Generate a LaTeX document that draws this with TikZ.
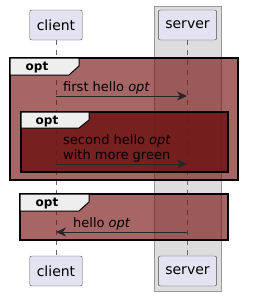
\documentclass[tikz,border=0pt]{standalone}
\usepackage{fontspec}
\setmainfont{DejaVu Sans}
\usetikzlibrary{arrows.meta,positioning}
\definecolor{partfill}{HTML}{E2E2F0}
\definecolor{boxgray}{HTML}{DDDDDD}
\definecolor{tabfill}{HTML}{EEEEEE}
\definecolor{optred}{RGB}{120,20,20}
\definecolor{optdark}{RGB}{110,20,20}

\begin{document}
\begin{tikzpicture}[x=1pt,y=-1pt,
  every node/.style={font=\fontsize{13}{15}\selectfont},
  part/.style={draw=black!70,rounded corners=2pt,fill=partfill,minimum height=30pt,inner xsep=7pt,font=\fontsize{14}{16}\selectfont},
  life/.style={draw=black!60,line width=0.5pt,dash pattern=on 5pt off 5pt},
  frame/.style={draw=black,line width=1.5pt,fill opacity=0.65,fill=optred},
  tabbox/.style={draw=black,line width=1pt,fill=tabfill},
  optlbl/.style={anchor=base,font=\fontsize{12}{14}\selectfont\bfseries},
  msg/.style={draw=black!85,line width=0.8pt,-{Stealth[length=10pt,width=9pt,inset=3pt]}},
  lbl/.style={anchor=base west,inner sep=0pt,align=left}]
\useasboundingbox (0,0) rectangle (252,297);
\draw[fill=boxgray,draw=black!40,line width=0.8pt] (154,6) rectangle (221,291);
\node[part] (cl) at (56,25) {client};
\node[part] (sv) at (187.5,25) {server};
\node[part] (clb) at (56,271) {client};
\node[part] (svb) at (187.5,271) {server};
\draw[life] (cl.south) -- (clb.north);
\draw[life] (sv.south) -- (svb.north);
\draw[frame] (10,58) rectangle (238,180);
\draw[tabbox] (10,58) -- (79,58) -- (79,66) -- (69,75) -- (10,75) -- cycle;
\node[optlbl] (t1) at (37,70) {opt};
\node[lbl] (m1) at (63,91) {first hello \textit{opt}};
\coordinate (c1) at (56,96); \coordinate (s1) at (187,96);
\draw[msg] (c1) -- (s1);
\draw[frame,fill=optdark,fill opacity=0.85] (21,112) rectangle (228,172);
\draw[tabbox] (21,112) -- (89,112) -- (89,120) -- (79,128) -- (21,128) -- cycle;
\node[optlbl] (t2) at (47,124) {opt};
\node[lbl] (m2) at (63,159) {second hello \textit{opt}\\with more green};
\coordinate (c2) at (56,164); \coordinate (s2) at (187,164);
\draw[msg] (c2) -- (s2);
\draw[frame] (20,194) rectangle (228,240);
\draw[tabbox] (20,194) -- (89,194) -- (89,202) -- (79,211) -- (20,211) -- cycle;
\node[optlbl] (t3) at (47,206) {opt};
\node[lbl] (m3) at (73,227) {hello \textit{opt}};
\coordinate (c3) at (56,232); \coordinate (s3) at (187,232);
\draw[msg] (s3) -- (c3);
\end{tikzpicture}
\end{document}
